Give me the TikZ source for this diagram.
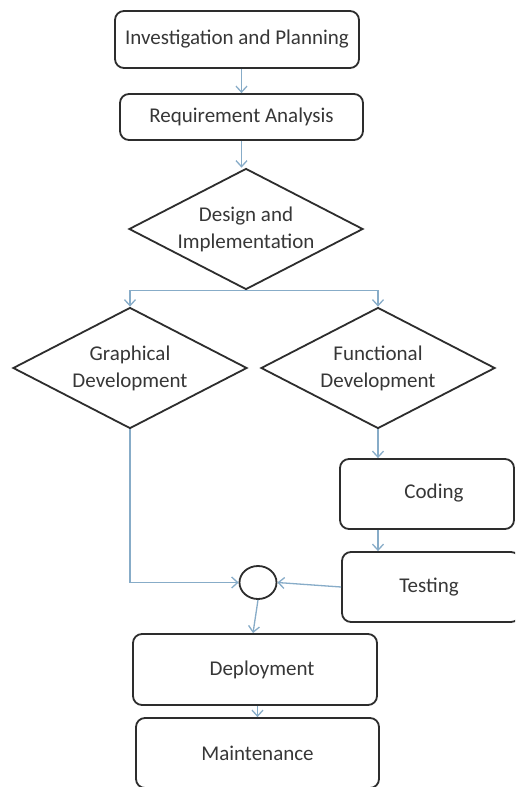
\documentclass[tikz,border=0pt]{standalone}
\usepackage{fontspec}
\setmainfont{Carlito}
\usetikzlibrary{shapes.geometric,arrows.meta}
\definecolor{arrc}{RGB}{135,172,200}
\definecolor{boxc}{RGB}{45,45,45}
\definecolor{txtc}{RGB}{55,55,55}
\tikzset{
  box/.style={draw=boxc, line width=1.8pt, rounded corners=9pt, inner sep=0pt, text=txtc,
    font=\fontsize{21}{27}\selectfont, align=center},
  dia/.style={draw=boxc, line width=1.8pt, diamond, aspect=1.93, inner sep=0pt, text=txtc,
    font=\fontsize{21}{27}\selectfont, align=center, minimum width=234pt, minimum height=121pt},
  arr/.style={draw=arrc, line width=1.3pt, -{Straight Barb[length=6pt,width=11pt,line width=1.3pt]}},
  junction/.style={draw=boxc, line width=1.8pt, ellipse, minimum width=37pt, minimum height=33pt, inner sep=0pt}
}
\begin{document}
\begin{tikzpicture}[x=1pt,y=-1pt]
\useasboundingbox (0,0) rectangle (515,787);
\clip (0,0) rectangle (515,787);
\fill[white] (0,0) rectangle (515,787);
\node[box, minimum width=244pt, minimum height=57pt] (b1) at (237,39.5) {Investigation and Planning};
\node[box, minimum width=243pt, minimum height=46pt] (b2) at (241.5,117) {Requirement Analysis};
\node[dia] (design) at (246,229) {Design and\\Implementation};
\node[dia] (gd) at (130,368) {Graphical\\Development};
\node[dia] (fd) at (378,368) {Functional\\Development};
\node[box, minimum width=174pt, minimum height=70pt] (coding) at (427,494) {\raisebox{6pt}{\hspace{14pt}Coding}};
\node[box, minimum width=178pt, minimum height=70pt] (testing) at (431,587) {Testing\hspace{4pt}};
\node[junction] (circ) at (258,582.5) {};
\node[box, minimum width=244pt, minimum height=71pt] (deploy) at (255,669.5) {\hspace{14pt}Deployment};
\node[box, minimum width=243pt, minimum height=70pt] (maint) at (257.5,753) {Maintenance};

\draw[arr] (b1.south -| b2.south) -- (b2.north);
\draw[arr] (b2.south) -- (b2.south |- design.north);
\draw[arr] (design.south) -| (gd.north);
\draw[arr] (design.south) -| (fd.north);
\draw[arr] (gd.south) |- (circ.west);
\draw[arr] (fd.south) -- (fd.south |- coding.north);
\draw[arr] (coding.south -| fd.south) -- (testing.north -| fd.south);
\draw[arr] (testing.west) -- (circ.east);
\draw[arr] (circ.south) -- ([xshift=-2pt]deploy.north);
\draw[arr] (deploy.south -| maint.north) -- (maint.north);
\end{tikzpicture}
\end{document}
